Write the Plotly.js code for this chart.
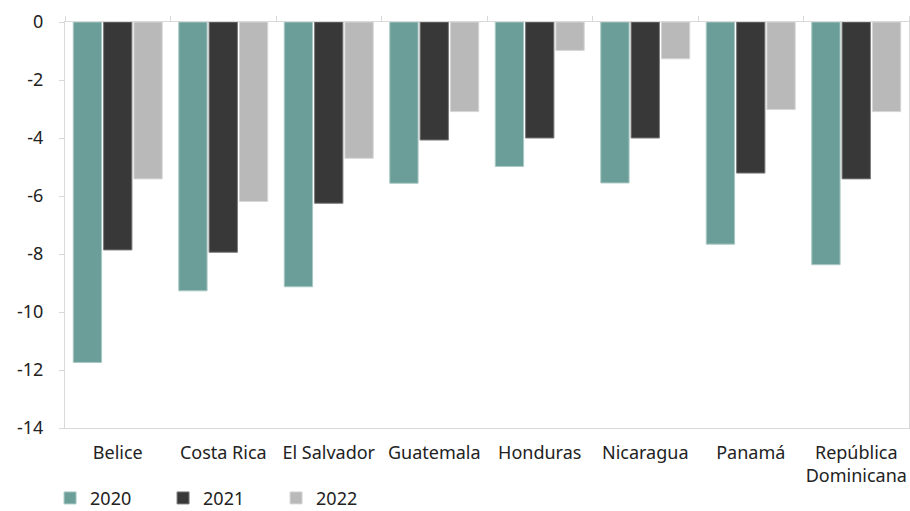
<!DOCTYPE html>
<html>
<head>
<meta charset="utf-8">
<script src="https://cdn.plot.ly/plotly-3.0.1.min.js"></script>
<style>html,body{margin:0;padding:0;background:#fff;}#chart{width:910px;height:511px;}</style>
</head>
<body>
<div id="chart"></div>
<script>
var categories = ["Belice", "Costa Rica", "El Salvador", "Guatemala", "Honduras", "Nicaragua", "Panamá", "República<br>Dominicana"];
var seriesNames = ["2020", "2021", "2022"];
var values2020 = [-11.74, -9.27, -9.13, -5.56, -4.98, -5.55, -7.66, -8.37];
var values2021 = [-7.86, -7.94, -6.25, -4.07, -4.0, -4.0, -5.21, -5.41];
var values2022 = [-5.41, -6.19, -4.70, -3.09, -0.98, -1.27, -3.02, -3.09];
var yTickVals = [0, -2, -4, -6, -8, -10, -12, -14];

var colors = ["#6B9E98", "#383838", "#B9B9B9"];
var lineColors = ["#A9C9C4", "#7A7A7A", "#D6D6D6"];
var allValues = [values2020, values2021, values2022];

var traces = allValues.map(function (vals, i) {
  return {
    type: "bar",
    name: seriesNames[i],
    x: categories,
    y: vals,
    marker: { color: colors[i], line: { color: lineColors[i], width: 1 } },
    hoverinfo: "x+y+name"
  };
});
// helper trace for the top tick marks (category boundaries at the zero line)
traces.push({
  type: "scatter",
  mode: "none",
  x: categories,
  y: categories.map(function () { return 0; }),
  xaxis: "x2",
  yaxis: "y",
  showlegend: false,
  hoverinfo: "skip"
});

var font = { family: "'Noto Sans', Roboto, sans-serif", size: 18, color: "#222222" };

var layout = {
  width: 910,
  height: 511,
  margin: { l: 65, r: 1, t: 22, b: 83 },
  paper_bgcolor: "#ffffff",
  plot_bgcolor: "#ffffff",
  font: font,
  barmode: "group",
  bargap: 0.138,
  bargroupgap: 0.066,
  showlegend: true,
  legend: {
    orientation: "h",
    xref: "container",
    yref: "container",
    x: 0.055,
    y: 0.025,
    xanchor: "left",
    yanchor: "middle",
    entrywidth: 68,
    entrywidthmode: "pixels",
    font: font,
    traceorder: "normal"
  },
  xaxis: {
    type: "category",
    showline: true,
    linecolor: "#D9D9D9",
    linewidth: 1,
    mirror: true,
    ticks: "",
    ticklabelstandoff: 8,
    showgrid: false,
    zeroline: false,
    tickfont: font,
    automargin: false
  },
  xaxis2: {
    type: "category",
    overlaying: "x",
    matches: "x",
    side: "top",
    anchor: "y",
    showline: false,
    ticks: "outside",
    tickson: "boundaries",
    ticklen: 5,
    tickcolor: "#D9D9D9",
    tickwidth: 1,
    showticklabels: false,
    showgrid: false,
    zeroline: false
  },
  yaxis: {
    range: [-14, 0],
    tickvals: yTickVals,
    ticktext: yTickVals.map(String),
    showline: true,
    linecolor: "#D9D9D9",
    linewidth: 1,
    mirror: true,
    ticks: "outside",
    ticklen: 5,
    tickcolor: "#D9D9D9",
    ticklabelstandoff: 12,
    showgrid: false,
    zeroline: false,
    tickfont: font,
    automargin: false
  }
};

Plotly.newPlot("chart", traces, layout, { displayModeBar: false, staticPlot: true });
</script>
</body>
</html>
